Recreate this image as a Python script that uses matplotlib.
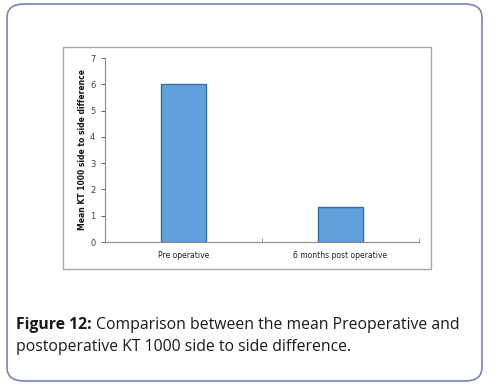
import matplotlib.pyplot as plt
from matplotlib.patches import FancyBboxPatch, Rectangle

categories = ["Pre operative", "6 months post operative"]
values = [6.0, 1.33]
y_ticks = [0, 1, 2, 3, 4, 5, 6, 7]

W, H = 490, 388
fig = plt.figure(figsize=(W / 100, H / 100), dpi=100)


def fx(px):
    return px / W


def fy(py):
    return 1 - py / H


# outer rounded border
fig.patches.append(FancyBboxPatch((fx(7), fy(381)), fx(475), 377 / H,
                                  boxstyle="round,pad=0,rounding_size=0.035",
                                  transform=fig.transFigure, fill=False,
                                  edgecolor="#7d80bd", linewidth=1.2))
# chart frame
fig.patches.append(Rectangle((fx(63), fy(269)), fx(368), 222 / H,
                             transform=fig.transFigure, fill=False,
                             edgecolor="#a6a6a6", linewidth=1.0))

ax = fig.add_axes([fx(105), fy(242), fx(314), 184 / H])
x = range(len(categories))
ax.bar(x, values, width=0.29, color="#62a0dd", edgecolor="#3b6c9e", linewidth=1.0)
ax.set_xlim(-0.5, 1.5)
ax.set_ylim(0, 7)
ax.set_yticks(y_ticks)
ax.set_xticks([-0.5, 0.5, 1.5])
ax.set_xticklabels([])
for i, c in enumerate(categories):
    ax.text(i, -0.5, c, ha="center", va="center", fontsize=5.5,
            family="DejaVu Sans", color="#222222")
ax.tick_params(axis="y", labelsize=6, colors="#444444", length=3, width=0.6, pad=4)
ax.tick_params(axis="x", length=3, width=0.6, colors="#888888", direction="in")
for s in ["top", "right"]:
    ax.spines[s].set_visible(False)
for s in ["left", "bottom"]:
    ax.spines[s].set_color("#8c8c8c")
    ax.spines[s].set_linewidth(0.8)
fig.text(fx(82), fy(150), "Mean KT 1000 side to side difference", rotation=90,
         ha="center", va="center", fontsize=5.5, fontweight="bold", color="#111111")

# caption
cap_font = dict(fontsize=11.3, family="Open Sans", color="#1a1a1a")
t1 = fig.text(fx(16), fy(325), "Figure 12:", fontweight="bold", va="center", **cap_font)
fig.canvas.draw()
bb = t1.get_window_extent()
fig.text(bb.x1 / W + fx(4), fy(325),
         "Comparison between the mean Preoperative and", va="center", **cap_font)
fig.text(fx(16), fy(347), "postoperative KT 1000 side to side difference.",
         va="center", **cap_font)

fig.savefig("out.png", dpi=100)
